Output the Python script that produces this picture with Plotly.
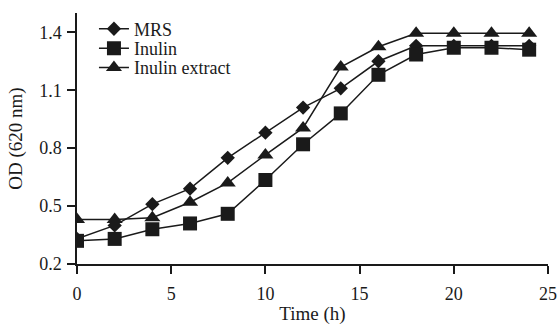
import plotly.graph_objects as go

time_h = [0, 2, 4, 6, 8, 10, 12, 14, 16, 18, 20, 22, 24]
mrs = [0.33, 0.40, 0.51, 0.59, 0.75, 0.88, 1.01, 1.11, 1.25, 1.33, 1.33, 1.33, 1.33]
inulin = [0.32, 0.33, 0.38, 0.41, 0.46, 0.635, 0.82, 0.98, 1.18, 1.285, 1.32, 1.32, 1.31]
inulin_extract = [0.43, 0.43, 0.44, 0.52, 0.62, 0.765, 0.905, 1.22, 1.325, 1.395, 1.395, 1.395, 1.395]

series_names = ["MRS", "Inulin", "Inulin extract"]
x_ticks = [0, 5, 10, 15, 20, 25]
y_ticks = [0.2, 0.5, 0.8, 1.1, 1.4]

ink = "#1a1a1a"
font_family = "Liberation Serif, Times New Roman, serif"

fig = go.Figure()
styles = [("diamond", 11), ("square", 14), ("triangle-up", 14)]
legend_ids = ["legend", "legend2", "legend3"]
legend_rows = [0.936, 0.858, 0.782]
for name, ys, (sym, sz), lid in zip(series_names, [mrs, inulin, inulin_extract], styles, legend_ids):
    fig.add_trace(go.Scatter(
        x=time_h, y=ys, name=name, mode="lines+markers",
        line=dict(color=ink, width=1.5),
        marker=dict(symbol=sym, size=sz, color=ink),
        legend=lid,
    ))

big_font = dict(family=font_family, size=18, color=ink)
legend_common = dict(x=0.036, xanchor="left", yanchor="middle",
                     bgcolor="rgba(0,0,0,0)", font=big_font,
                     tracegroupgap=0, itemwidth=30)

fig.update_layout(
    width=560, height=325,
    margin=dict(l=77, r=12, t=13, b=61, autoexpand=False),
    paper_bgcolor="white", plot_bgcolor="white",
    font=dict(family=font_family, size=16, color=ink),
    showlegend=True,
    legend=dict(y=legend_rows[0], **legend_common),
    legend2=dict(y=legend_rows[1], **legend_common),
    legend3=dict(y=legend_rows[2], **legend_common),
    xaxis=dict(range=[0, 25], tickvals=x_ticks, showgrid=False, zeroline=False,
               automargin=False, ticklabelstandoff=5, tickfont=big_font,
               showline=True, linecolor=ink, linewidth=1.5,
               ticks="outside", ticklen=8, tickwidth=1.5, tickcolor=ink,
               title=dict(text="Time (h)", standoff=11)),
    yaxis=dict(range=[0.2, 1.5], tickvals=y_ticks, tickformat=".1f",
               showgrid=False, zeroline=False, automargin=False,
               ticklabelstandoff=2, tickfont=big_font,
               showline=True, linecolor=ink, linewidth=1.5,
               ticks="outside", ticklen=8, tickwidth=1.5, tickcolor=ink,
               title=dict(text="OD (620 nm)", standoff=12)),
)

fig.write_html("out.html", config={"displayModeBar": False},
               post_script="document.body.style.margin='0';document.body.style.overflow='hidden';")
